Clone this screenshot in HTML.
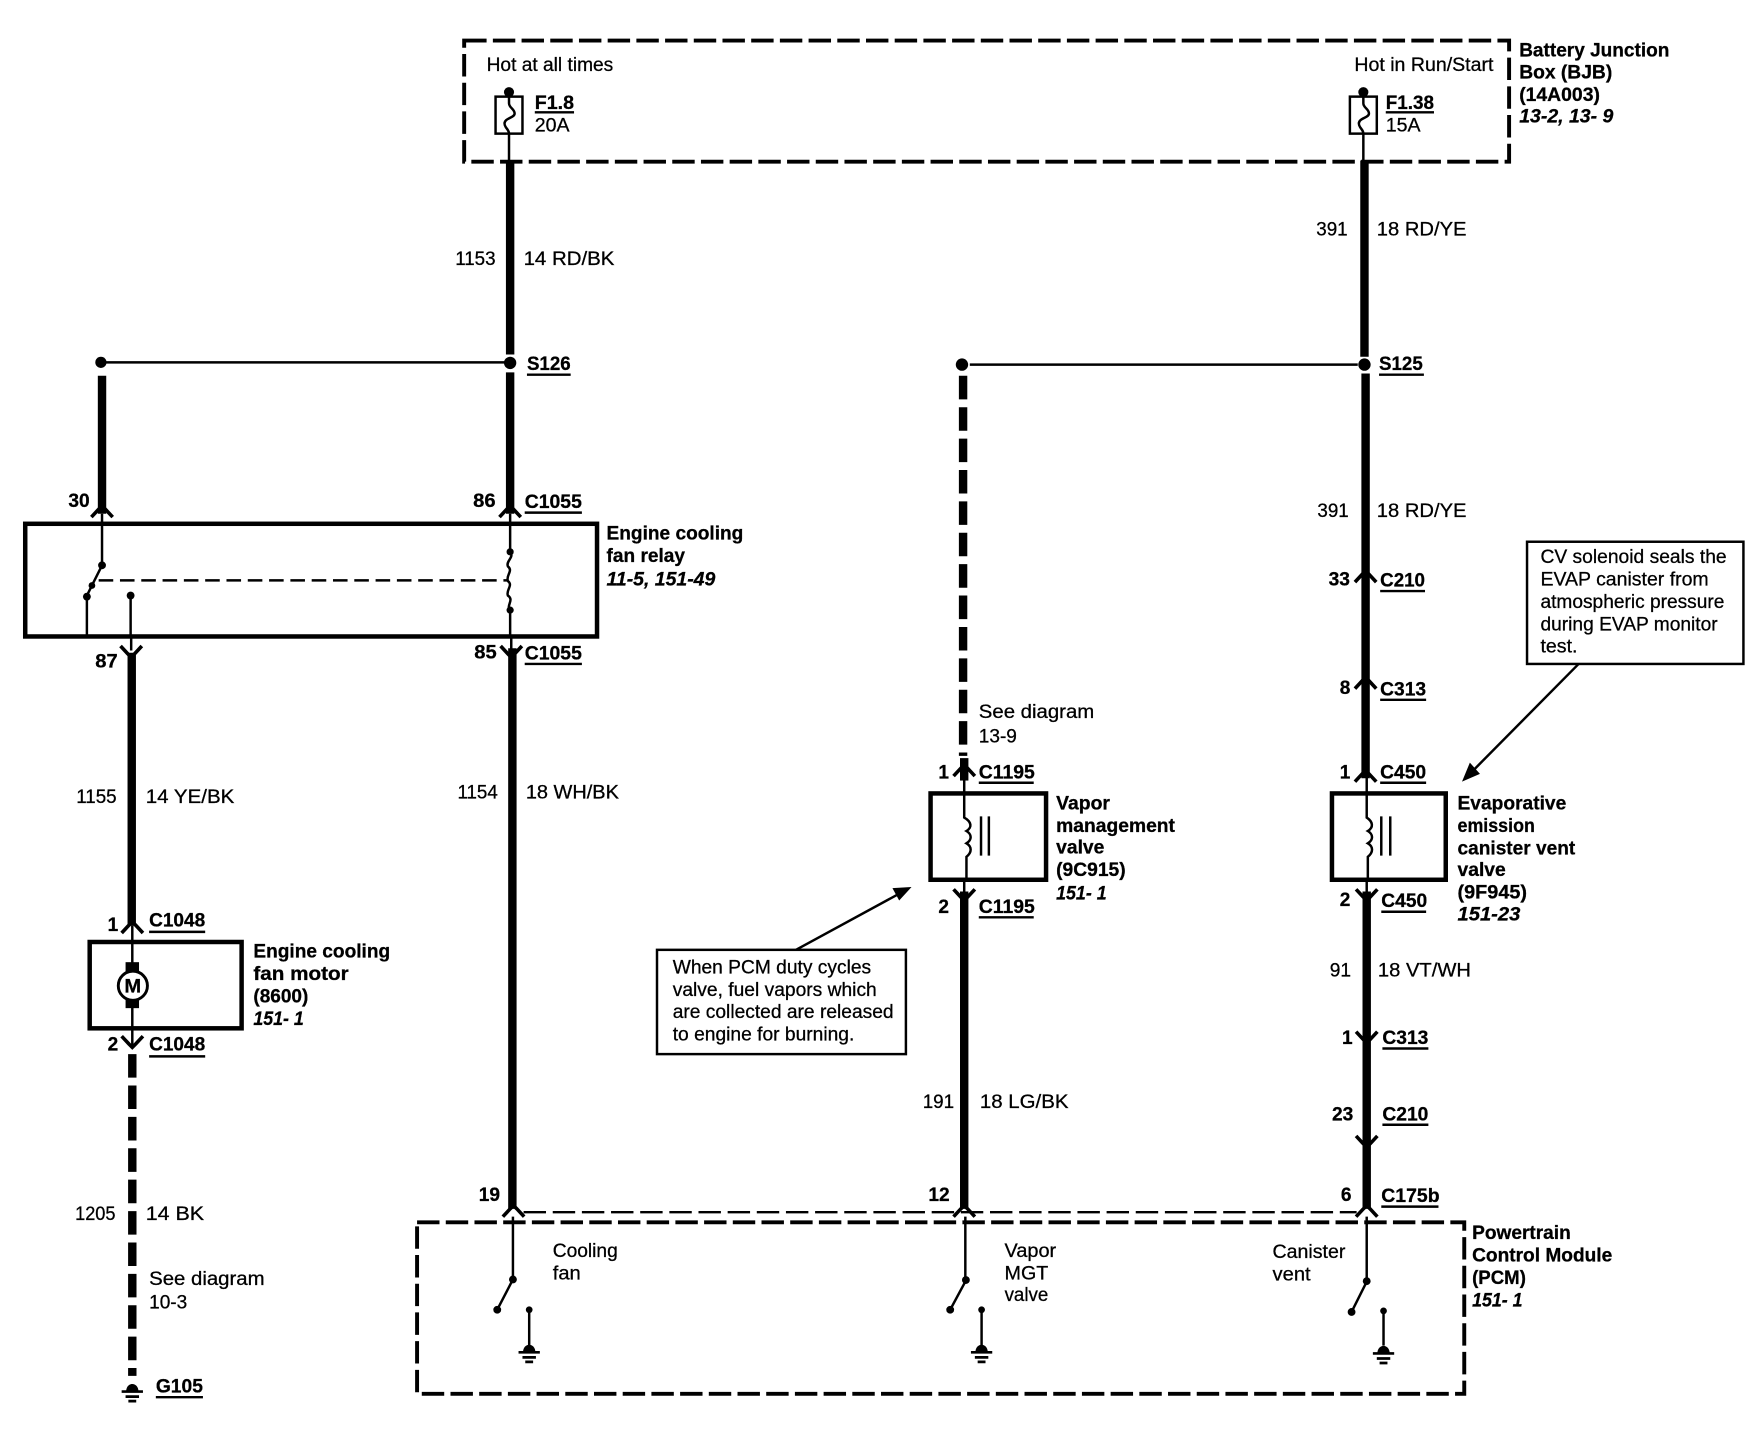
<!DOCTYPE html>
<html><head><meta charset="utf-8"><style>
html,body{margin:0;padding:0;background:#fff}
svg{display:block}
text{font-family:"Liberation Sans",sans-serif;font-size:17px;fill:#000;stroke:#000;stroke-width:.25}
.b{font-weight:bold}
.i{font-weight:bold;font-style:italic}
.t{fill:none;stroke:#000;stroke-width:7.500}
.n{fill:none;stroke:#000;stroke-width:2.200}
.d{fill:none;stroke:#000;stroke-width:7.500;stroke-dasharray:21 7}
.box{fill:none;stroke:#000;stroke-width:4}
.bd{fill:none;stroke:#000;stroke-width:3.500;stroke-dasharray:20 5.6}
.c{fill:#fff;stroke:#000;stroke-width:2.200}
.u{stroke:#000;stroke-width:2.200}
</style></head><body>
<svg xmlns="http://www.w3.org/2000/svg" width="1758" height="1440" viewBox="0 0 1568 1284">
<defs>
<path id="up" d="M-9.500 10L-3 3L0 0L3 3L9.500 10" fill="none" stroke="#000" stroke-width="3.200"/>
<path id="dn" d="M-9.500 -10L-3 -3L0 0L3 -3L9.500 -10" fill="none" stroke="#000" stroke-width="3.200"/>
<g id="gnd"><path d="M-5.500 7C-5.500 -2 5.500 -2 5.500 7Z" fill="#000"/><path d="M-9.500 7H9.500M-6 11.500H6M-3.500 15.500H3.500" stroke="#000" stroke-width="2.400"/></g>
</defs>

<!-- BJB box -->
<rect class="bd" x="414" y="36" width="932" height="108"/>
<!-- fuses -->
<circle cx="454" cy="82" r="4.500"/>
<rect class="n" x="442" y="86" width="24" height="33"/>
<path class="n" d="M454 82V92C454 96 459 97 459 101C459 105 450 105 450 110C450 114 454 115 454 119V143"/>
<circle cx="1216" cy="82" r="4.500"/>
<rect class="n" x="1204" y="86" width="24" height="33"/>
<path class="n" d="M1216 82V92C1216 96 1221 97 1221 101C1221 105 1212 105 1212 110C1212 114 1216 115 1216 119V143"/>

<!-- main wires -->
<path class="t" d="M455 143V316M455 332V458"/>
<path class="t" d="M457 578V1078"/>
<path class="t" d="M91 335V458"/>
<path class="t" d="M117.500 582V825"/>
<path class="d" d="M118 940V1227"/>
<path class="t" d="M1217 143V318M1218 333V694"/>
<path class="t" d="M1219 795V1078"/>
<path class="d" d="M859 335V674"/>
<path class="t" d="M860 676V696"/>
<path class="t" d="M860 795V1078"/>

<!-- wire stubs between connectors and boxes -->
<path class="n" stroke-width="2.600" d="M91 458V467M455 458V467M117 567V580M456 567V580M118 825V840M118 917V934M860 692V707M1219 692V707M860 784V798M1219 784V798"/>

<!-- splices -->
<path class="n" d="M90 323H450"/>
<circle cx="90" cy="323" r="5"/>
<circle cx="455" cy="323.500" r="5.500"/>
<path class="n" d="M865 325H1211"/>
<circle cx="858" cy="325" r="5.500"/>
<circle cx="1217" cy="325" r="5.500"/>

<!-- relay -->
<rect class="box" x="22.500" y="467" width="510" height="100.500"/>
<use href="#up" x="91" y="451"/>
<use href="#up" x="455" y="451"/>
<use href="#dn" x="117" y="586"/>
<use href="#dn" x="456" y="586"/>
<path class="n" d="M91 467V504L77.500 531V567"/>
<circle cx="91" cy="504" r="3.500"/>
<circle cx="82" cy="522" r="3"/>
<circle cx="77.500" cy="532" r="3.500"/>
<path class="n" d="M116.500 531V567"/>
<circle cx="116.500" cy="531" r="3.500"/>
<path class="n" stroke-dasharray="13 6" d="M88 517.500H453"/>
<path class="n" d="M455 467V492C459 497 451 500 453 505C458 509 451 513 453 518C458 522 451 526 453 531C459 535 451 540 455 544V567"/>
<circle cx="455" cy="492" r="3.200"/>
<circle cx="455" cy="544" r="3.200"/>

<!-- motor -->
<rect class="box" x="80" y="840" width="135.500" height="77"/>
<use href="#up" x="118" y="822"/>
<use href="#dn" x="118" y="934"/>
<path class="n" d="M118 840V917"/>
<rect x="112" y="858" width="12" height="10"/>
<rect x="112" y="890" width="12" height="9"/>
<circle cx="118.500" cy="879" r="13" fill="#fff" stroke="#000" stroke-width="2.600"/>
<text class="b" x="111" y="885" font-size="16" textLength="15" lengthAdjust="spacingAndGlyphs">M</text>
<use href="#gnd" x="118" y="1234"/>

<!-- VMV -->
<rect class="box" x="830" y="707.500" width="103" height="77"/>
<use href="#up" x="860" y="682"/>
<use href="#dn" x="860" y="803"/>
<path class="n" d="M860 707V729C867 733 867 738 862 741C867 744 867 749 862 752C867 755 867 760 862 764V785"/>
<path class="n" d="M875 728V763M882 728V763"/>

<!-- EVAP -->
<rect class="box" x="1188" y="707.500" width="101.500" height="77"/>
<use href="#up" x="1218" y="687"/>
<use href="#dn" x="1219" y="803"/>
<path class="n" d="M1219 707V729C1225 733 1225 738 1220 741C1225 744 1225 749 1220 752C1225 755 1225 760 1220 764V785"/>
<path class="n" d="M1232 728V763M1240 728V763"/>
<use href="#up" x="1218" y="509"/>
<use href="#up" x="1218" y="604"/>
<use href="#dn" x="1219" y="930"/>
<use href="#dn" x="1219" y="1023"/>

<!-- PCM -->
<path class="n" stroke-width="3" stroke-dasharray="20 6" d="M467 1081H1210"/>
<rect class="bd" x="372" y="1090" width="934" height="153"/>
<use href="#up" x="458" y="1075"/>
<use href="#up" x="860" y="1075"/>
<use href="#up" x="1219" y="1075"/>
<path class="n" stroke-width="2.600" d="M457.500 1085V1141M861 1085V1141M1219 1085V1142"/>
<path class="n" stroke-width="3" d="M457.500 1141L443.500 1168M861.500 1142L847.500 1168M1219 1143L1205.500 1170"/>
<circle cx="457.500" cy="1141" r="3.500"/><circle cx="443.500" cy="1168" r="3.500"/>
<circle cx="861.500" cy="1141.500" r="3.500"/><circle cx="847.500" cy="1168" r="3.500"/>
<circle cx="1219" cy="1142.500" r="3.500"/><circle cx="1205.500" cy="1170" r="3.500"/>
<path class="n" d="M472 1167V1200M875.500 1167V1200M1234 1169V1200"/>
<circle cx="472" cy="1168" r="3"/><circle cx="875.500" cy="1168" r="3"/><circle cx="1234" cy="1169" r="3"/>
<use href="#gnd" x="472" y="1199"/>
<use href="#gnd" x="875.500" y="1199"/>
<use href="#gnd" x="1234" y="1200"/>

<!-- callouts -->
<rect class="c" x="1362" y="483" width="193" height="109"/>
<path class="n" d="M1408 592L1312 689"/>
<path d="M1304 697L1311 680L1320 690Z"/>
<rect class="c" x="586" y="847" width="222" height="93"/>
<path class="n" d="M710 847L800 798"/>
<path d="M813 791L796 792L802 803Z"/>

<!-- underlines -->
<path class="u" d="M477 100H512M1236 100H1279M470 334H509M1230 334H1270M468 457H519M468 592H519M1231 527H1271M1231 624H1272M1231 698H1272M873 698H922M873 818H922M1232 813H1272M133 831H183M133 942H183M139 1246H181M1233 935H1274M1233 1003H1274M1232 1076H1283"/>

<!-- text -->
<text x="434" y="63" textLength="113" lengthAdjust="spacingAndGlyphs">Hot at all times</text>
<text x="1208" y="63" textLength="124" lengthAdjust="spacingAndGlyphs">Hot in Run/Start</text>
<text class="b" x="477" y="97" textLength="35" lengthAdjust="spacingAndGlyphs">F1.8</text>
<text x="477" y="117" textLength="31" lengthAdjust="spacingAndGlyphs">20A</text>
<text class="b" x="1236" y="97" textLength="43" lengthAdjust="spacingAndGlyphs">F1.38</text>
<text x="1236" y="117" textLength="31" lengthAdjust="spacingAndGlyphs">15A</text>
<text class="b" x="1355" y="50" textLength="134" lengthAdjust="spacingAndGlyphs">Battery Junction</text>
<text class="b" x="1355" y="70" textLength="83" lengthAdjust="spacingAndGlyphs">Box (BJB)</text>
<text class="b" x="1355" y="90" textLength="72" lengthAdjust="spacingAndGlyphs">(14A003)</text>
<text class="i" x="1355" y="109" textLength="84" lengthAdjust="spacingAndGlyphs">13-2, 13- 9</text>
<text x="406" y="236" textLength="36" lengthAdjust="spacingAndGlyphs">1153</text>
<text x="467" y="236" textLength="81" lengthAdjust="spacingAndGlyphs">14  RD/BK</text>
<text x="1174" y="210" textLength="28" lengthAdjust="spacingAndGlyphs">391</text>
<text x="1228" y="210" textLength="80" lengthAdjust="spacingAndGlyphs">18  RD/YE</text>
<text class="b" x="470" y="330" textLength="39" lengthAdjust="spacingAndGlyphs">S126</text>
<text class="b" x="1230" y="330" textLength="39" lengthAdjust="spacingAndGlyphs">S125</text>
<text class="b" x="61" y="452" textLength="19" lengthAdjust="spacingAndGlyphs">30</text>
<text class="b" x="422" y="452" textLength="20" lengthAdjust="spacingAndGlyphs">86</text>
<text class="b" x="468" y="453" textLength="51" lengthAdjust="spacingAndGlyphs">C1055</text>
<text class="b" x="541" y="481" textLength="122" lengthAdjust="spacingAndGlyphs">Engine cooling</text>
<text class="b" x="541" y="501" textLength="70" lengthAdjust="spacingAndGlyphs">fan relay</text>
<text class="i" x="541" y="522" textLength="97" lengthAdjust="spacingAndGlyphs">11-5, 151-49</text>
<text class="b" x="85" y="595" textLength="20" lengthAdjust="spacingAndGlyphs">87</text>
<text class="b" x="423" y="587" textLength="20" lengthAdjust="spacingAndGlyphs">85</text>
<text class="b" x="468" y="588" textLength="51" lengthAdjust="spacingAndGlyphs">C1055</text>
<text x="68" y="716" textLength="36" lengthAdjust="spacingAndGlyphs">1155</text>
<text x="130" y="716" textLength="79" lengthAdjust="spacingAndGlyphs">14  YE/BK</text>
<text x="408" y="712" textLength="36" lengthAdjust="spacingAndGlyphs">1154</text>
<text x="469" y="712" textLength="83" lengthAdjust="spacingAndGlyphs">18  WH/BK</text>
<text x="1175" y="461" textLength="28" lengthAdjust="spacingAndGlyphs">391</text>
<text x="1228" y="461" textLength="80" lengthAdjust="spacingAndGlyphs">18  RD/YE</text>
<text class="b" x="1185" y="522" textLength="19" lengthAdjust="spacingAndGlyphs">33</text>
<text class="b" x="1231" y="523" textLength="40" lengthAdjust="spacingAndGlyphs">C210</text>
<text class="b" x="1195" y="619">8</text>
<text class="b" x="1231" y="620" textLength="41" lengthAdjust="spacingAndGlyphs">C313</text>
<text class="b" x="1195" y="694">1</text>
<text class="b" x="1231" y="694" textLength="41" lengthAdjust="spacingAndGlyphs">C450</text>
<text x="873" y="640" textLength="103" lengthAdjust="spacingAndGlyphs">See diagram</text>
<text x="873" y="662" textLength="34" lengthAdjust="spacingAndGlyphs">13-9</text>
<text class="b" x="837" y="694">1</text>
<text class="b" x="873" y="694" textLength="50" lengthAdjust="spacingAndGlyphs">C1195</text>
<text class="b" x="942" y="722" textLength="48" lengthAdjust="spacingAndGlyphs">Vapor</text>
<text class="b" x="942" y="742" textLength="106" lengthAdjust="spacingAndGlyphs">management</text>
<text class="b" x="942" y="761" textLength="43" lengthAdjust="spacingAndGlyphs">valve</text>
<text class="b" x="942" y="781" textLength="62" lengthAdjust="spacingAndGlyphs">(9C915)</text>
<text class="i" x="942" y="802" textLength="45" lengthAdjust="spacingAndGlyphs">151- 1</text>
<text class="b" x="1300" y="722" textLength="97" lengthAdjust="spacingAndGlyphs">Evaporative</text>
<text class="b" x="1300" y="742" textLength="69" lengthAdjust="spacingAndGlyphs">emission</text>
<text class="b" x="1300" y="762" textLength="105" lengthAdjust="spacingAndGlyphs">canister vent</text>
<text class="b" x="1300" y="781" textLength="43" lengthAdjust="spacingAndGlyphs">valve</text>
<text class="b" x="1300" y="801" textLength="62" lengthAdjust="spacingAndGlyphs">(9F945)</text>
<text class="i" x="1300" y="821" textLength="56" lengthAdjust="spacingAndGlyphs">151-23</text>
<text class="b" x="837" y="814">2</text>
<text class="b" x="873" y="814" textLength="50" lengthAdjust="spacingAndGlyphs">C1195</text>
<text class="b" x="1195" y="808">2</text>
<text class="b" x="1232" y="809" textLength="41" lengthAdjust="spacingAndGlyphs">C450</text>
<text x="1186" y="871" textLength="19" lengthAdjust="spacingAndGlyphs">91</text>
<text x="1229" y="871" textLength="83" lengthAdjust="spacingAndGlyphs">18  VT/WH</text>
<text class="b" x="226" y="854" textLength="122" lengthAdjust="spacingAndGlyphs">Engine cooling</text>
<text class="b" x="226" y="874" textLength="85" lengthAdjust="spacingAndGlyphs">fan motor</text>
<text class="b" x="226" y="894" textLength="49" lengthAdjust="spacingAndGlyphs">(8600)</text>
<text class="i" x="226" y="914" textLength="45" lengthAdjust="spacingAndGlyphs">151- 1</text>
<text class="b" x="96" y="830">1</text>
<text class="b" x="133" y="826" textLength="50" lengthAdjust="spacingAndGlyphs">C1048</text>
<text class="b" x="96" y="937">2</text>
<text class="b" x="133" y="937" textLength="50" lengthAdjust="spacingAndGlyphs">C1048</text>
<text x="67" y="1088" textLength="36" lengthAdjust="spacingAndGlyphs">1205</text>
<text x="130" y="1088" textLength="52" lengthAdjust="spacingAndGlyphs">14  BK</text>
<text x="133" y="1146" textLength="103" lengthAdjust="spacingAndGlyphs">See diagram</text>
<text x="133" y="1167" textLength="34" lengthAdjust="spacingAndGlyphs">10-3</text>
<text class="b" x="139" y="1242" textLength="42" lengthAdjust="spacingAndGlyphs">G105</text>
<text x="823" y="988" textLength="28" lengthAdjust="spacingAndGlyphs">191</text>
<text x="874" y="988" textLength="79" lengthAdjust="spacingAndGlyphs">18  LG/BK</text>
<text class="b" x="1197" y="931">1</text>
<text class="b" x="1233" y="931" textLength="41" lengthAdjust="spacingAndGlyphs">C313</text>
<text class="b" x="1188" y="999" textLength="19" lengthAdjust="spacingAndGlyphs">23</text>
<text class="b" x="1233" y="999" textLength="41" lengthAdjust="spacingAndGlyphs">C210</text>
<text class="b" x="427" y="1071" textLength="19" lengthAdjust="spacingAndGlyphs">19</text>
<text class="b" x="828" y="1071" textLength="19" lengthAdjust="spacingAndGlyphs">12</text>
<text class="b" x="1196" y="1071">6</text>
<text class="b" x="1232" y="1072" textLength="52" lengthAdjust="spacingAndGlyphs">C175b</text>
<text x="493" y="1121" textLength="58" lengthAdjust="spacingAndGlyphs">Cooling</text>
<text x="493" y="1141" textLength="25" lengthAdjust="spacingAndGlyphs">fan</text>
<text x="896" y="1121" textLength="46" lengthAdjust="spacingAndGlyphs">Vapor</text>
<text x="896" y="1141" textLength="39" lengthAdjust="spacingAndGlyphs">MGT</text>
<text x="896" y="1160" textLength="39" lengthAdjust="spacingAndGlyphs">valve</text>
<text x="1135" y="1122" textLength="65" lengthAdjust="spacingAndGlyphs">Canister</text>
<text x="1135" y="1142" textLength="34" lengthAdjust="spacingAndGlyphs">vent</text>
<text class="b" x="1313" y="1105" textLength="88" lengthAdjust="spacingAndGlyphs">Powertrain</text>
<text class="b" x="1313" y="1125" textLength="125" lengthAdjust="spacingAndGlyphs">Control Module</text>
<text class="b" x="1313" y="1145" textLength="48" lengthAdjust="spacingAndGlyphs">(PCM)</text>
<text class="i" x="1313" y="1165" textLength="45" lengthAdjust="spacingAndGlyphs">151- 1</text>
<text x="1374" y="502" textLength="166" lengthAdjust="spacingAndGlyphs">CV solenoid seals the</text>
<text x="1374" y="522" textLength="150" lengthAdjust="spacingAndGlyphs">EVAP canister from</text>
<text x="1374" y="542" textLength="164" lengthAdjust="spacingAndGlyphs">atmospheric pressure</text>
<text x="1374" y="562" textLength="158" lengthAdjust="spacingAndGlyphs">during EVAP monitor</text>
<text x="1374" y="582" textLength="33" lengthAdjust="spacingAndGlyphs">test.</text>
<text x="600" y="868" textLength="177" lengthAdjust="spacingAndGlyphs">When PCM duty cycles</text>
<text x="600" y="888" textLength="182" lengthAdjust="spacingAndGlyphs">valve, fuel vapors which</text>
<text x="600" y="908" textLength="197" lengthAdjust="spacingAndGlyphs">are collected are released</text>
<text x="600" y="928" textLength="162" lengthAdjust="spacingAndGlyphs">to engine for burning.</text>
</svg>
</body></html>
